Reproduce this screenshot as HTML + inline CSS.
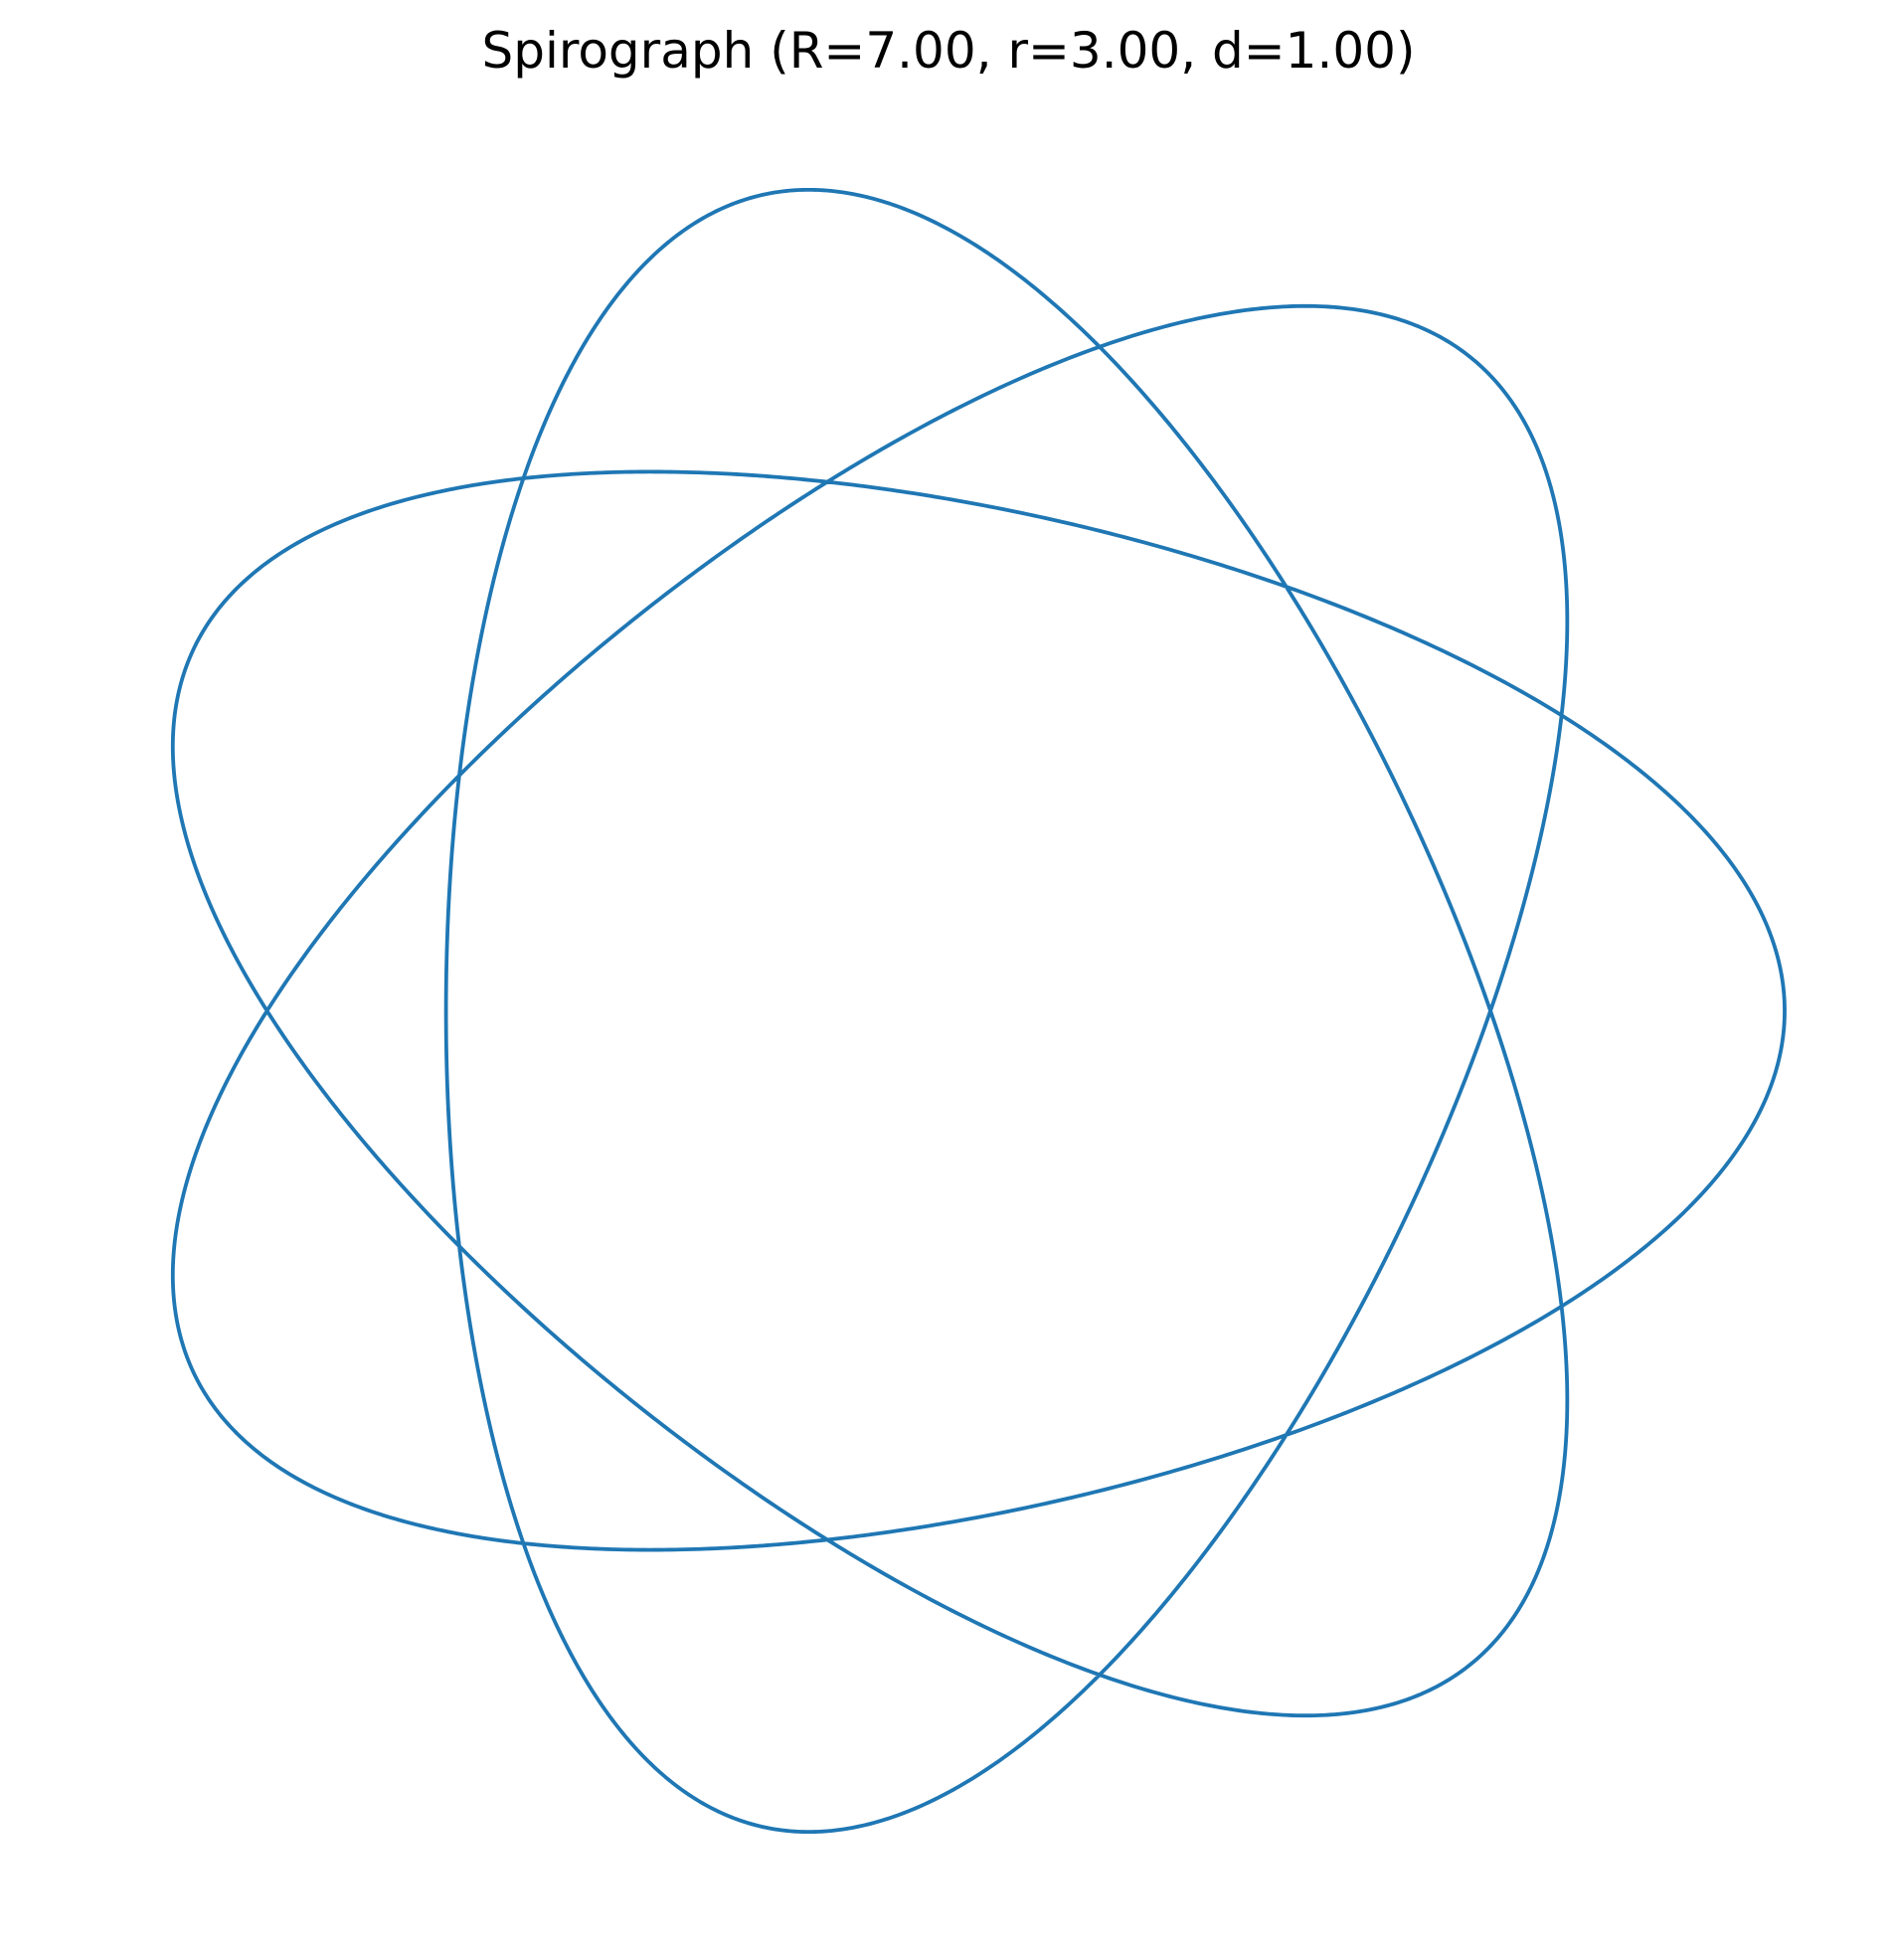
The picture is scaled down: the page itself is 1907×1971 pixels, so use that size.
<!DOCTYPE html>
<html><head><meta charset="utf-8"><style>
html,body{margin:0;padding:0;background:#fff;}
svg{display:block;}
</style></head><body>
<svg id="chart" width="1907" height="1971" viewBox="0 0 1907 1971" xmlns="http://www.w3.org/2000/svg">
<rect width="1907" height="1971" fill="#fff"/>
<text x="954" y="68" text-anchor="middle" font-family="DejaVu Sans, sans-serif" font-size="50" fill="#000">Spirograph (R=7.00, r=3.00, d=1.00)</text>
<path id="curve" fill="none" stroke="#1f77b4" stroke-width="3.8" stroke-linejoin="round"/>
</svg>
<script>
const paramNames = ["R", "r", "d"];
const paramValues = [7, 3, 1];
const sampleCount = [3000];
// axis mapping (equal aspect)
const cx = 953.5, cy = 1016.5, scale = 168.3;
function xScale(v){ return cx + v*scale; }
function yScale(v){ return cy - v*scale; }
const R = paramValues[0], r = paramValues[1], d = paramValues[2];
const n = sampleCount[0];
const period = 2*Math.PI*r;
let dstr = "";
for (let i=0;i<=n;i++){
  const t = period*i/n;
  const x = (R-r)*Math.cos(t) + d*Math.cos((R-r)/r*t);
  const y = (R-r)*Math.sin(t) - d*Math.sin((R-r)/r*t);
  dstr += (i===0?"M":"L") + xScale(x).toFixed(2) + "," + yScale(y).toFixed(2);
}
document.getElementById("curve").setAttribute("d", dstr);
</script>
</body></html>
